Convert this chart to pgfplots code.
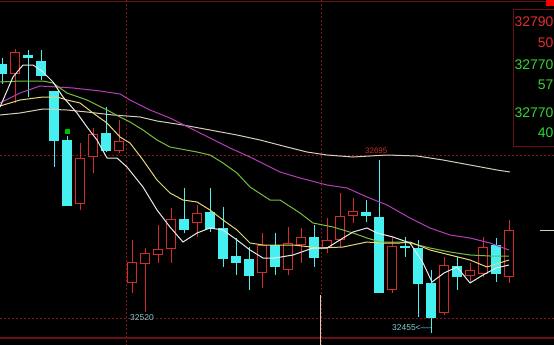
\documentclass[border=0pt]{standalone}
\usepackage{pgfplots}
\pgfplotsset{compat=1.18}
\usepackage{fontspec}
\setmainfont{Liberation Sans}
\definecolor{upred}{RGB}{210,45,45}
\definecolor{dncyan}{RGB}{70,240,240}
\definecolor{gridred}{RGB}{125,25,25}
\definecolor{framered}{RGB}{105,15,22}
\definecolor{maw}{RGB}{235,235,235}
\definecolor{may}{RGB}{228,215,120}
\definecolor{mag}{RGB}{120,190,60}
\definecolor{mam}{RGB}{185,60,185}
\definecolor{mab}{RGB}{215,205,185}
\definecolor{txtred}{RGB}{225,45,45}
\definecolor{txtgreen}{RGB}{50,215,50}
\definecolor{txtcyan}{RGB}{130,205,210}

% up candle: x, body top, body bottom, high, low (pixel rows)
\newcommand{\upc}[5]{%
 \addplot[upred, line width=1bp, forget plot] coordinates {(#1,#4) (#1,#5)};
 \addplot[upred, line width=10bp, forget plot] coordinates {(#1,#2) (#1,#3)};
 \pgfmathsetmacro{\ta}{#2+1.2}\pgfmathsetmacro{\tb}{#3-1.2}%
 \edef\tmp{\noexpand\addplot[black, line width=7.6bp, forget plot] coordinates {(#1,\ta) (#1,\tb)};}\tmp
}
% down candle
\newcommand{\dnc}[5]{%
 \addplot[dncyan, line width=1bp, forget plot] coordinates {(#1,#4) (#1,#5)};
 \addplot[dncyan, line width=10bp, forget plot] coordinates {(#1,#2) (#1,#3)};
}

\begin{document}
\begin{tikzpicture}
\begin{axis}[scale only axis, width=554bp, height=345bp,
  xmin=0, xmax=554, ymin=0, ymax=345, y dir=reverse,
  axis lines=none, axis background/.style={fill=black}, clip=true]

% frame and grid
\addplot[framered, line width=1.5bp, forget plot] coordinates {(0,1.5) (554,1.5)};
\addplot[framered, line width=1.5bp, forget plot] coordinates {(0,338) (554,338)};
\addplot[gridred, line width=0.8bp, dash pattern=on 2bp off 2bp, forget plot] coordinates {(0,155) (554,155)};
\addplot[gridred, line width=0.8bp, dash pattern=on 2bp off 2bp, forget plot] coordinates {(0,318) (554,318)};
\addplot[gridred, line width=0.8bp, dash pattern=on 2bp off 2bp, forget plot] coordinates {(126,0) (126,345)};
\addplot[gridred, line width=0.8bp, dash pattern=on 2bp off 2bp, forget plot] coordinates {(321,0) (321,345)};
\addplot[mab, line width=1bp, forget plot] coordinates {(320,295) (320,345)};
\addplot[mab, line width=1bp, forget plot] coordinates {(540,230) (554,230)};

% candles
\dnc{2}{64}{74}{58}{84}
\upc{15}{52}{74}{49}{103}
\dnc{28}{55}{58}{50}{97}
\dnc{41}{61}{76}{50}{80}
\dnc{54}{91}{141}{91}{167}
\dnc{67}{140}{206}{136}{206}
\upc{80}{158}{204}{143}{210}
\upc{93}{134}{157}{128}{173}
\dnc{106}{133}{151}{107}{152}
\upc{119}{141}{151}{120}{153}
\upc{132}{262}{283}{240}{293}
\upc{145}{253}{264}{248}{312}
\upc{158}{249}{255}{225}{263}
\upc{171}{219}{249}{208}{263}
\dnc{184}{219}{230}{188}{233}
\upc{197}{213}{223}{205}{237}
\dnc{210}{212}{229}{188}{232}
\dnc{223}{228}{259}{207}{267}
\dnc{236}{256}{263}{238}{275}
\dnc{249}{259}{276}{247}{290}
\upc{262}{245}{273}{233}{288}
\dnc{275}{245}{267}{233}{275}
\upc{288}{243}{270}{227}{275}
\upc{301}{237}{245}{228}{263}
\dnc{314}{237}{258}{225}{267}
\upc{327}{240}{248}{218}{253}
\upc{340}{216}{240}{193}{248}
\upc{353}{211}{216}{198}{223}
\dnc{366}{212}{216}{200}{222}
\dnc{379}{217}{293}{160}{293}
\upc{392}{246}{290}{237}{293}
\dnc{405}{246}{248}{237}{257}
\dnc{418}{248}{284}{240}{317}
\dnc{431}{283}{318}{270}{333}
\upc{444}{265}{313}{257}{315}
\dnc{457}{266}{277}{257}{290}
\upc{470}{270}{276}{263}{282}
\upc{483}{247}{274}{237}{277}
\dnc{496}{245}{274}{238}{282}
\upc{509}{230}{277}{220}{283}

% marker
\addplot[only marks, mark=square*, mark size=2.2bp, color=green!75!black, forget plot] coordinates {(67,131)};

% moving averages
\addplot[mab, line width=1bp] coordinates {(0,115) (20,113) (43,109) (67,110) (87,112) (113,115) (140,117) (157,121) (183,125) (210,130) (237,135) (260,140) (287,147) (307,152) (327,155) (353,157) (387,155) (417,156) (443,160) (470,165) (497,170) (510,172)};
\addplot[mam, line width=1bp] coordinates {(0,103) (20,93) (40,86) (57,87) (73,88) (100,91) (120,94) (130,100) (150,110) (170,118) (190,128) (210,138) (230,148) (250,157) (260,162) (280,172) (300,178) (327,185) (347,188) (367,197) (387,205) (410,218) (430,228) (450,235) (470,238) (490,243) (509,250)};
\addplot[mag, line width=1bp] coordinates {(0,82) (20,81) (43,81) (53,83) (67,93) (87,100) (107,110) (120,117) (130,122) (143,130) (157,140) (170,147) (197,152) (210,155) (223,163) (237,173) (250,187) (270,200) (280,200) (300,213) (313,223) (333,227) (353,233) (367,238) (380,242) (400,242) (410,243) (430,248) (450,252) (470,255) (490,256) (509,256)};
\addplot[may, line width=1bp] coordinates {(0,106) (20,100) (43,97) (57,97) (67,100) (80,103) (93,113) (107,123) (120,137) (130,143) (143,160) (157,180) (170,193) (183,200) (197,202) (210,210) (223,220) (237,230) (250,243) (263,245) (293,245) (320,248) (343,247) (367,242) (380,243) (400,243) (410,242) (430,250) (450,255) (470,260) (487,267) (509,260)};
\addplot[maw, line width=1bp] coordinates {(0,107) (13,77) (23,65) (33,65) (43,72) (53,82) (63,97) (77,113) (87,127) (97,140) (107,158) (117,158) (127,167) (143,187) (157,210) (170,227) (183,242) (197,233) (210,228) (223,230) (237,240) (250,250) (263,258) (275,258) (293,255) (313,248) (327,248) (343,238) (353,232) (367,228) (377,233) (393,237) (410,243) (423,263) (432,282) (444,273) (457,267) (470,283) (483,275) (496,268) (509,265)};

% right panel
\addplot[framered, line width=1bp, forget plot] coordinates {(513,10) (556,10) (556,146) (513,146)} -- cycle;
\addplot[fill=red, draw=none, forget plot] coordinates {(546,0) (554,0) (554,6) (546,6)} -- cycle;
\node[anchor=east, inner sep=0pt, text=txtred, font=\fontsize{14}{14}\selectfont] at (axis cs:553.5,22) {32790};
\node[anchor=east, inner sep=0pt, text=txtred, font=\fontsize{14}{14}\selectfont] at (axis cs:553.5,43) {50};
\node[anchor=east, inner sep=0pt, text=txtgreen, font=\fontsize{14}{14}\selectfont] at (axis cs:553.5,65) {32770};
\node[anchor=east, inner sep=0pt, text=txtgreen, font=\fontsize{14}{14}\selectfont] at (axis cs:553.5,85) {57};
\node[anchor=east, inner sep=0pt, text=txtgreen, font=\fontsize{14}{14}\selectfont] at (axis cs:553.5,113) {32770};
\node[anchor=east, inner sep=0pt, text=txtgreen, font=\fontsize{14}{14}\selectfont] at (axis cs:553.5,133) {40};

% labels
\node[anchor=west, inner sep=0pt, text=txtcyan, font=\fontsize{8.5}{8.5}\selectfont] at (axis cs:130,318) {32520};
\node[anchor=west, inner sep=0pt, text=txtcyan, font=\fontsize{8.5}{8.5}\selectfont] at (axis cs:392,328) {32455<----};
\node[anchor=west, inner sep=0pt, text=upred, font=\fontsize{8}{8}\selectfont] at (axis cs:365,151) {32695};
\end{axis}
\pgfresetboundingbox
\path[use as bounding box] (current axis.south west) rectangle (current axis.north east);
\end{tikzpicture}
\end{document}
